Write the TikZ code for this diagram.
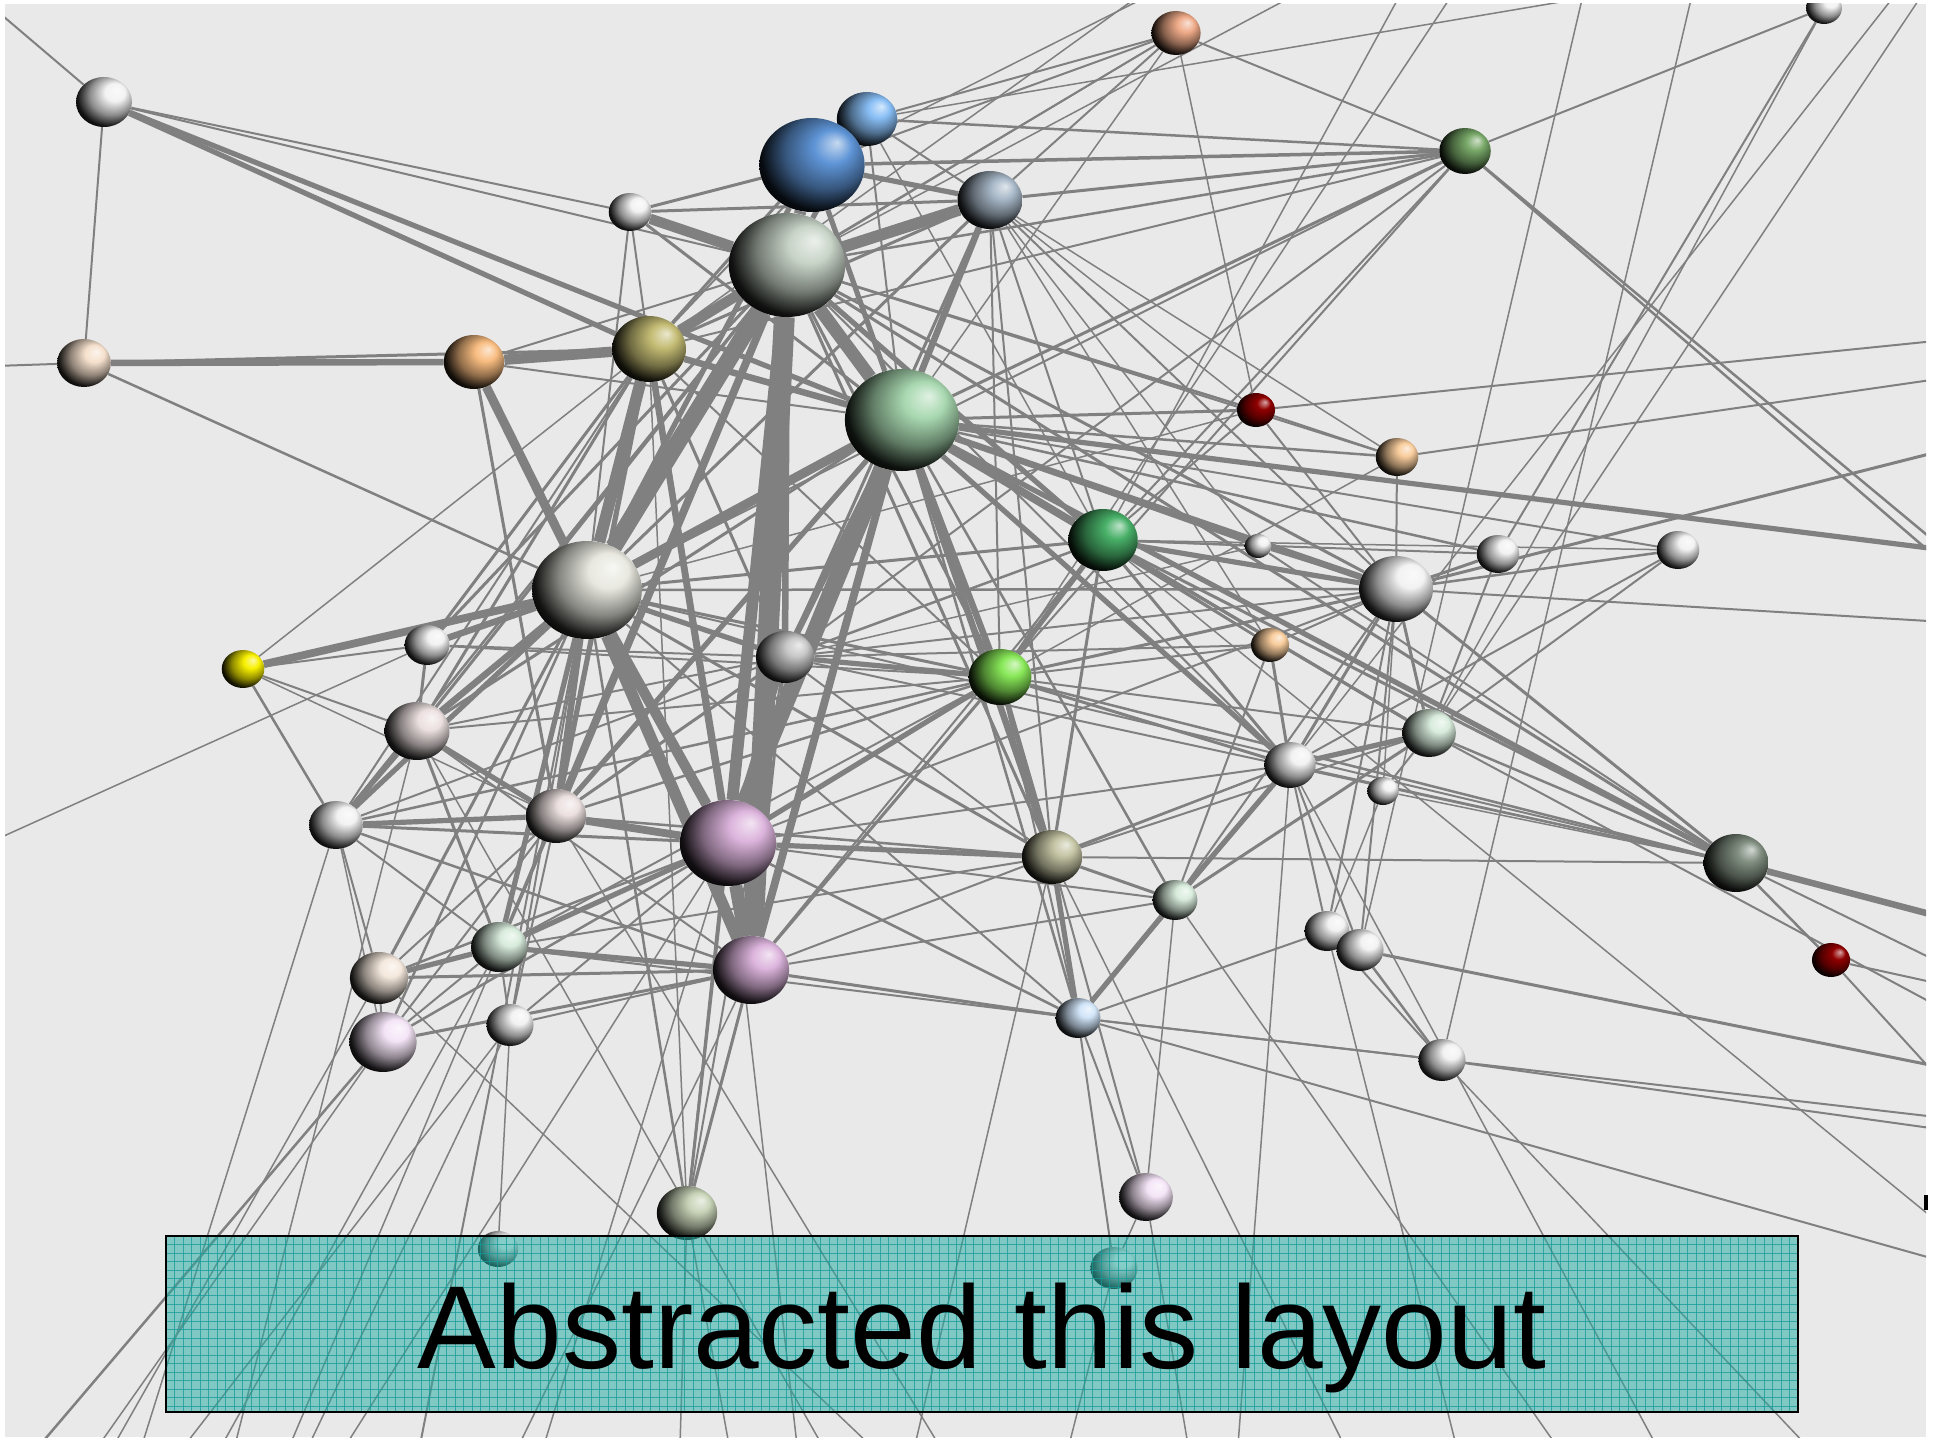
\documentclass[tikz,border=0pt]{standalone}
\usepackage{fontspec}
\newfontfamily\labelfont{Liberation Sans}
\usetikzlibrary{shapes.geometric}

\pgfdeclarelayer{bg}
\pgfdeclarelayer{edges}
\pgfsetlayers{bg,edges,main}

% sphere shading: lit from the upper right, dark towards the lower left
\colorlet{sphcol}{white}
\pgfdeclareradialshading[sphcol]{sphere}{\pgfpoint{12bp}{12bp}}{%
  color(0bp)=(sphcol!35!white);
  color(9bp)=(sphcol);
  color(20bp)=(sphcol!58!black);
  color(29bp)=(sphcol!8!black);
  color(34bp)=(black);
  color(50bp)=(black)}

\definecolor{paper}{RGB}{233,233,233}
\definecolor{edgegray}{RGB}{128,128,128}
\definecolor{boxteal}{RGB}{40,173,165}
\definecolor{gridteal}{RGB}{20,155,152}
\definecolor{cWhite}{HTML}{F2F2F2}
\definecolor{cBeige}{HTML}{F5E0CC}
\definecolor{cSalmon}{HTML}{EEAA88}
\definecolor{cMoss}{HTML}{78A868}
\definecolor{cSky}{HTML}{88BEF5}
\definecolor{cBlue}{HTML}{5E94D6}
\definecolor{cSlate}{HTML}{A8B8C8}
\definecolor{cSage}{HTML}{C8D4C8}
\definecolor{cOrange}{HTML}{F8BC80}
\definecolor{cOlive}{HTML}{C4BC74}
\definecolor{cMint}{HTML}{A8D8B0}
\definecolor{cMaroon}{HTML}{900000}
\definecolor{cPeach}{HTML}{F8CC9C}
\definecolor{cGreen}{HTML}{48B068}
\definecolor{cIvory}{HTML}{E8E8E0}
\definecolor{cYellow}{HTML}{F8F000}
\definecolor{cSilver}{HTML}{C8C8C8}
\definecolor{cLime}{HTML}{88E858}
\definecolor{cRose}{HTML}{ECE0E0}
\definecolor{cPaleGreen}{HTML}{D8ECDC}
\definecolor{cMauve}{HTML}{DCB4DC}
\definecolor{cKhaki}{HTML}{C4C4A4}
\definecolor{cFern}{HTML}{808E80}
\definecolor{cLinen}{HTML}{F4E8DC}
\definecolor{cLavender}{HTML}{F4E4F6}
\definecolor{cIce}{HTML}{D0E4F8}
\definecolor{cSagePale}{HTML}{C8D4B8}

\tikzset{
  % heavier links are drawn a little broader
  ed/.style={draw=edgegray, line width={(#1>3.5 ? 1.3*#1 : #1)*1pt}},
  sc/.code={\colorlet{sphcol}{#1}},
  sph/.style 2 args={ellipse, inner sep=0pt, shade, shading=sphere, sc=#2,
    minimum height=2*#1pt, minimum width=2.24*#1pt},
}
\newcommand\sphnode[5]{\node[sph={#4}{#5}] (#1) at (#2,#3) {};}

\begin{document}
\begin{tikzpicture}[x=1pt,y=-1pt]
\useasboundingbox (0,0) rectangle (1938,1439);

\begin{pgfonlayer}{bg}
  \fill[white] (0,0) rectangle (1938,1439);
  \fill[paper] (5,4) rectangle (1926,1437);
\end{pgfonlayer}

% ---------- spheres ----------
\begin{scope}
\clip (5,4) rectangle (1926,1437);
\sphnode{n1}{104}{102}{25}{cWhite}
\sphnode{n2}{84}{363}{24}{cBeige}
\sphnode{n3}{1176}{33}{22}{cSalmon}
\sphnode{n4}{1824}{8}{16}{cWhite}
\sphnode{n5}{1465}{151}{23}{cMoss}
\sphnode{n6}{867}{119}{27}{cSky}
\sphnode{n7}{812}{165}{47}{cBlue}
\sphnode{n8}{630}{212}{19}{cWhite}
\sphnode{n9}{990}{200}{29}{cSlate}
\sphnode{n10}{787}{265}{52}{cSage}
\sphnode{n11}{474}{362}{27}{cOrange}
\sphnode{n12}{649}{349}{33}{cOlive}
\sphnode{n13}{902}{420}{51}{cMint}
\sphnode{n14}{1256}{410}{17}{cMaroon}
\sphnode{n15}{1397}{457}{19}{cPeach}
\sphnode{n16}{1103}{540}{31}{cGreen}
\sphnode{n17}{1258}{546}{12}{cWhite}
\sphnode{n18}{1498}{554}{19}{cWhite}
\sphnode{n19}{1678}{550}{19}{cWhite}
\sphnode{n20}{1396}{589}{33}{cWhite}
\sphnode{n21}{587}{590}{49}{cIvory}
\sphnode{n22}{243}{669}{19}{cYellow}
\sphnode{n23}{427}{645}{20}{cWhite}
\sphnode{n24}{785}{657}{26}{cSilver}
\sphnode{n25}{1000}{677}{28}{cLime}
\sphnode{n26}{1270}{645}{17}{cPeach}
\sphnode{n27}{417}{731}{29}{cRose}
\sphnode{n28}{1429}{733}{24}{cPaleGreen}
\sphnode{n29}{1290}{765}{23}{cWhite}
\sphnode{n30}{1383}{791}{14}{cWhite}
\sphnode{n31}{336}{825}{24}{cWhite}
\sphnode{n32}{556}{816}{27}{cRose}
\sphnode{n33}{728}{843}{43}{cMauve}
\sphnode{n34}{1052}{857}{27}{cKhaki}
\sphnode{n35}{1736}{863}{29}{cFern}
\sphnode{n36}{1175}{900}{20}{cPaleGreen}
\sphnode{n37}{499}{947}{25}{cPaleGreen}
\sphnode{n38}{1327}{931}{20}{cWhite}
\sphnode{n39}{1360}{950}{21}{cWhite}
\sphnode{n40}{1831}{960}{17}{cMaroon}
\sphnode{n41}{379}{978}{26}{cLinen}
\sphnode{n42}{751}{970}{34}{cMauve}
\sphnode{n43}{510}{1025}{21}{cWhite}
\sphnode{n44}{383}{1042}{30}{cLavender}
\sphnode{n45}{1078}{1018}{20}{cIce}
\sphnode{n46}{1442}{1060}{21}{cWhite}
\sphnode{n47}{1146}{1197}{24}{cLavender}
\sphnode{n48}{687}{1213}{27}{cSagePale}
\sphnode{n49}{498}{1249}{18}{cWhite}
\sphnode{n50}{1114}{1268}{21}{cWhite}
\end{scope}

% ---------- free ends of edges leaving the view ----------
\coordinate (tl) at (-10,5);
\coordinate (l1) at (-5,366);
\coordinate (l2) at (-5,840);
\foreach \n/\yy in {r1/550,r2/450,r3/340,r4/378,r5/622,r6/550,r7/565,r8/918,r9/965,
  r10/1085,r11/985,r12/1068,r13/1118,r14/1262,r15/1130,r16/1010,r17/1228}
  {\coordinate (\n) at (1945,\yy);}
\foreach \n/\xx in {t1/1150,t2/1140,t3/1295,t4/1400,t5/1452,t6/1583,t7/1602,t8/1922,
  t9/1692,t10/1895}
  {\coordinate (\n) at (\xx,-5);}
\foreach \n/\xx in {b1/40,b2/99,b3/114,b4/142,b5/185,b6/222,b7/235,b8/290,b9/309,
  b10/346,b11/420,b12/519,b13/544,b14/870,b15/680,b16/729,b17/797,b18/822,b19/915,
  b20/939,b21/1069,b22/1188,b23/1238,b24/1344,b25/1456,b26/1556,b27/1656,b28/1806}
  {\coordinate (\n) at (\xx,1445);}

% ---------- edges ----------
\begin{pgfonlayer}{edges}
\begin{scope}
\clip (5,4) rectangle (1926,1437);
% heavy core links
\foreach \a/\b/\w in {n10/n42/16, n10/n21/13, n13/n33/13, n10/n33/9, n10/n13/10,
  n21/n42/9, n21/n33/8, n33/n42/10, n12/n21/9, n10/n12/8, n7/n10/9, n9/n10/9,
  n8/n10/8, n11/n12/8, n11/n21/7, n13/n21/7, n10/n32/6, n12/n33/5, n13/n42/6,
  n13/n24/5, n10/n24/5, n24/n33/4, n13/n16/6, n13/n20/5, n13/n25/5, n13/n34/5,
  n16/n20/4, n21/n27/5, n21/n23/5, n21/n22/6, n21/n32/5, n21/n31/4, n21/n37/4,
  n32/n33/6, n33/n37/4, n31/n33/3, n33/n34/4, n25/n33/4, n27/n32/4, n2/n11/5,
  n1/n12/4, n1/n13/4, n11/n32/3, n9/n13/5, n7/n13/4, n8/n13/3, n7/n21/4, n6/n10/4,
  n7/n8/3, n7/n9/4, n12/n13/5, n12/n32/4, n12/n42/4, n13/n29/4, n13/n35/4,
  n20/n35/3, n16/n35/3, n16/n25/4, n25/n34/4, n34/n45/4, n42/n45/3, n29/n36/4,
  n36/n45/4, n28/n29/4, n20/n29/3, n20/n28/3, n25/n29/3, n24/n25/4, n21/n24/4,
  n24/n32/3, n27/n31/4, n31/n32/4, n37/n41/4, n37/n42/4, n41/n42/3, n42/n44/3,
  n42/n43/2, n27/n37/3, n31/n41/2, n32/n37/3, n23/n27/3, n35/n40/2.5}
  {\draw[ed=\w] (\a) -- (\b);}
% lighter links
\foreach \a/\b/\w in {n1/n2/2, n1/n8/2, n1/n10/2, n2/n12/3, n2/n21/2.5, n3/n5/2,
  n3/n14/1.5, n3/n7/2, n3/n10/2, n3/n9/2, n3/n6/2, n3/n13/1.5, n3/n12/1.5, n4/n5/2,
  n4/n28/1.5, n4/n18/2, n5/n7/3.5, n5/n6/2.5, n5/n9/3, n5/n13/3, n5/n10/2.5,
  n5/n16/2, n5/n25/2, n5/n21/2, n5/n24/2, n5/n12/2, n6/n13/2, n6/n9/2, n6/n12/2,
  n6/n16/1.5, n7/n12/3, n8/n12/2, n8/n21/2, n8/n9/3, n9/n21/3, n9/n12/3, n9/n16/2,
  n9/n24/3, n9/n25/2, n9/n33/2, n9/n20/2, n9/n34/2, n9/n14/1.5, n9/n15/1.5,
  n9/n17/1.5, n9/n26/1.5, n10/n14/2.5, n10/n15/2, n10/n20/3, n10/n16/4, n10/n25/3,
  n10/n34/3, n10/n29/2, n10/n35/3, n10/n27/3, n10/n23/3, n10/n31/2.5, n10/n37/2.5,
  n10/n48/2, n11/n10/2, n11/n13/2, n12/n24/3, n12/n27/3, n12/n23/3, n12/n22/1.5,
  n12/n25/2, n12/n31/2, n13/n28/3, n13/n26/2.5, n13/n17/3, n13/n15/2.5, n13/n14/3,
  n13/n18/2.5, n13/n19/2, n13/n32/4, n13/n27/3, n13/n45/2.5, n13/n36/2.5,
  n14/n15/2, n14/n20/2, n14/n16/2, n15/n20/2, n16/n21/3, n16/n34/3, n16/n24/2.5,
  n16/n29/3, n16/n26/2, n16/n28/3, n17/n20/2, n17/n16/2, n17/n35/2, n18/n20/3,
  n18/n28/2, n19/n20/2.5, n19/n29/2, n19/n28/2, n20/n21/2.5, n20/n24/2, n20/n25/3,
  n20/n26/2, n20/n30/1.5, n20/n36/2, n20/n38/2, n20/n39/2, n21/n25/3, n21/n34/3,
  n21/n41/3, n21/n44/2.5, n21/n43/2, n21/n45/2, n21/n48/2.5, n21/n35/2, n22/n23/2,
  n22/n27/2, n22/n31/2.5, n22/n32/1.5, n23/n24/2, n23/n25/2, n24/n26/2, n24/n27/2,
  n24/n42/3, n24/n34/2, n24/n35/2, n25/n26/2, n25/n28/2, n25/n45/2, n25/n42/3,
  n25/n32/2.5, n25/n27/2, n25/n31/2.5, n25/n35/2.5, n26/n29/3, n27/n42/2,
  n28/n30/2, n28/n35/2.5, n28/n36/3, n29/n35/2, n29/n38/2, n29/n39/2, n29/n45/3,
  n29/n34/2, n29/n42/2, n29/n33/2, n30/n38/1.5, n30/n35/1.5, n31/n24/2, n31/n37/2,
  n31/n42/2.5, n31/n44/1.5, n32/n34/2.5, n32/n41/2, n32/n43/2, n32/n44/2,
  n33/n36/2, n33/n41/2.5, n33/n43/2, n33/n44/2.5, n33/n45/2.5, n33/n48/3,
  n34/n36/3, n34/n47/2, n36/n26/2, n36/n42/2, n36/n47/1.5, n37/n34/2, n37/n43/2,
  n37/n44/2, n37/n45/2, n38/n39/2, n38/n45/2, n38/n46/2, n39/n46/2.5, n41/n44/2,
  n42/n48/3, n43/n49/1.5, n45/n46/2, n45/n47/2, n45/n50/2, n47/n50/1.5, n24/n48/2,
  n12/n48/1.5, n16/n42/2, n20/n33/2, n25/n37/2, n28/n34/2, n17/n24/1.5,
  n15/n25/1.5, n14/n21/1.5, n19/n16/1.5, n18/n16/2, n35/n34/2}
  {\draw[ed=\w] (\a) -- (\b);}
% links running out of view
\foreach \a/\b/\w in {n1/tl/2, n2/l1/2, n23/l2/1.5, n13/r1/4, n20/r2/3, n14/r3/2,
  n15/r4/2, n20/r5/2, n5/r6/2.5, n5/r7/2.5, n35/r8/5, n35/r9/2, n40/r10/2,
  n40/r11/2, n39/r12/3, n45/r13/2, n45/r14/2, n46/r15/2, n28/r16/2, n16/r17/1.5,
  n7/t1/1.5, n12/t2/1.5, n10/t3/1.5, n16/t4/1.5, n25/t5/1.5, n39/t6/1.5,
  n6/t7/1.5, n28/t8/1.5, n46/t9/1.5, n29/t10/1.5,
  n44/b1/2.5, n44/b2/1.5, n41/b3/1.5, n31/b4/1.5, n43/b5/1.5, n37/b6/1.5,
  n27/b7/1.5, n32/b8/1.5, n43/b9/1.5, n33/b10/1.5, n21/b11/2, n42/b12/1.5,
  n24/b13/1.5, n41/b14/1.5, n48/b15/1.5, n48/b16/1.5, n33/b17/1.5, n27/b18/1.5,
  n34/b19/1.5, n32/b20/1.5, n50/b21/1.5, n47/b22/1.5, n29/b23/1.5, n34/b24/1.5,
  n38/b25/1.5, n36/b26/1.5, n29/b27/1.5, n46/b28/1.5}
  {\draw[ed=\w] (\a) -- (\b);}
\end{scope}
\end{pgfonlayer}

% ---------- caption panel ----------
\fill[boxteal, opacity=0.54] (166,1236) rectangle (1798,1412);
\begin{scope}
\clip (166,1236) rectangle (1798,1412);
\foreach \gx in {174.5,183,...,1798}
  {\draw[gridteal, line width=0.9pt, opacity=0.75] (\gx,1236) -- (\gx,1412);}
\foreach \gy in {1244.5,1253,...,1412}
  {\draw[gridteal, line width=0.9pt, opacity=0.75] (166,\gy) -- (1798,\gy);}
\end{scope}
\draw[black, line width=2.6pt] (166,1236) rectangle (1798,1412);
\node[anchor=base, inner sep=0pt, font=\labelfont\fontsize{118}{130}\selectfont]
  (caption) at (982,1368) {Abstracted this layout};

% small mark on the right margin
\fill[black] (1924,1195) rectangle (1928,1210);
\end{tikzpicture}
\end{document}
